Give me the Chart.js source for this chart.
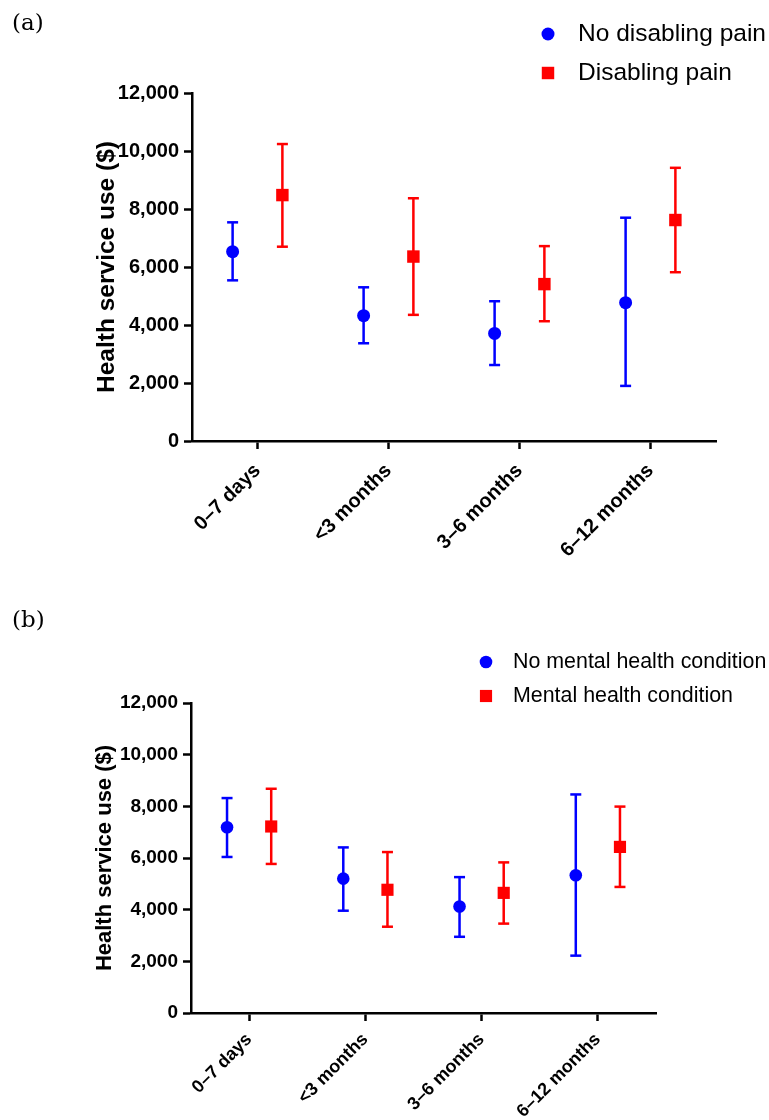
<!DOCTYPE html>
<html>
<head>
<meta charset="utf-8">
<script src="https://cdn.jsdelivr.net/npm/chart.js@4.4.0/dist/chart.umd.min.js"></script>
<style>
  body { margin: 0; background: #fff; width: 769px; height: 1120px; position: relative; overflow: hidden; }
  .panel { position: absolute; left: 0; width: 769px; height: 560px; }
  .tag { position: absolute; left: 12px; z-index: 2; font-family: "DejaVu Serif", serif; font-size: 23px; color: #000; }
</style>
</head>
<body>
<div class="panel" style="top: 0"><canvas id="chartA" width="769" height="560"></canvas></div>
<div class="panel" style="top: 560px"><canvas id="chartB" width="769" height="560"></canvas></div>
<div class="tag" style="top: 9px">(a)</div>
<div class="tag" style="top: 606px">(b)</div>
<script>
const categories = ['0–7 days', '<3 months', '3–6 months', '6–12 months'];
const yTickValues = [0, 2000, 4000, 6000, 8000, 10000, 12000];

// (a) disabling pain
const noPainMean = [6530, 4320, 3710, 4770];
const noPainLow = [5540, 3370, 2620, 1900];
const noPainHigh = [7540, 5300, 4820, 7700];
const painMean = [8480, 6360, 5410, 7620];
const painLow = [6700, 4350, 4130, 5820];
const painHigh = [10240, 8370, 6720, 9420];

// (b) mental health condition
const noMentalMean = [7190, 5200, 4120, 5330];
const noMentalLow = [6040, 3960, 2950, 2220];
const noMentalHigh = [8320, 6410, 5260, 8460];
const mentalMean = [7220, 4770, 4650, 6430];
const mentalLow = [5770, 3340, 3460, 4880];
const mentalHigh = [8680, 6230, 5830, 7990];

const BLUE = '#0000ff';
const RED = '#ff0000';
const SHIFT = 0.19;

Chart.defaults.font.family = '"Liberation Sans", Arial, sans-serif';
Chart.defaults.color = '#000';

// mean marker + caps + whisker for one group
function errorSeries(label, mean, low, high, shift, color, style, radius) {
  const xs = mean.map((_, i) => i + shift);
  const whisker = [];
  const caps = [];
  xs.forEach((x, i) => {
    whisker.push({ x, y: low[i] }, { x, y: high[i] }, { x, y: null });
    caps.push({ x, y: low[i] }, { x, y: high[i] });
  });
  return [
    {
      type: 'scatter', label, inLegend: true,
      data: xs.map((x, i) => ({ x, y: mean[i] })),
      pointStyle: style, pointRadius: radius, pointHoverRadius: radius,
      pointBackgroundColor: color, pointBorderWidth: 0, order: 0
    },
    {
      type: 'scatter', data: caps,
      pointStyle: 'line', pointRadius: 5.5, pointHoverRadius: 5.5,
      pointBorderColor: color, pointBorderWidth: 2.5, order: 1
    },
    {
      type: 'line', data: whisker, borderColor: color, borderWidth: 2.5,
      pointRadius: 0, spanGaps: false, fill: false, order: 2
    }
  ];
}

// legend stacked in a column, markers left-aligned
const markerLegend = {
  id: 'markerLegend',
  afterDraw(chart, args, opts) {
    const ctx = chart.ctx;
    ctx.save();
    ctx.font = opts.font;
    ctx.textBaseline = 'middle';
    chart.data.datasets.filter(d => d.inLegend).forEach((d, i) => {
      const y = opts.top + i * opts.rowGap;
      ctx.fillStyle = d.pointBackgroundColor;
      Chart.helpers.drawPoint(ctx, { pointStyle: d.pointStyle, radius: d.pointRadius, borderWidth: 0, rotation: 0 }, opts.markerX, y);
      ctx.fillStyle = '#000';
      ctx.fillText(d.label, opts.textX, y);
    });
    ctx.restore();
  }
};

function makeChart(id, datasets, p) {
  const axisGrid = { drawOnChartArea: false, drawTicks: true, tickLength: 8, tickWidth: 2.5, tickColor: '#000' };
  const axisBorder = { display: true, color: '#000', width: 2.5 };
  return new Chart(document.getElementById(id), {
    type: 'scatter',
    data: { datasets },
    plugins: [markerLegend],
    options: {
      responsive: false,
      animation: false,
      events: [],
      layout: { padding: { top: p.top, right: p.right, bottom: 0, left: 0 } },
      plugins: {
        legend: { display: false },
        tooltip: { enabled: false },
        markerLegend: p.legend
      },
      scales: {
        x: {
          type: 'linear', min: -0.5, max: 3.5,
          afterBuildTicks: s => { s.ticks = categories.map((c, i) => ({ value: i })); },
          afterFit: s => { s.height = p.xHeight; },
          grid: axisGrid,
          border: axisBorder,
          ticks: {
            callback: v => categories[v],
            minRotation: 45, maxRotation: 45, autoSkip: false,
            color: '#000', padding: p.xPad,
            font: { size: p.xFont, weight: 'bold' }
          }
        },
        y: {
          min: 0, max: 12000,
          afterBuildTicks: s => { s.ticks = yTickValues.map(v => ({ value: v })); },
          afterFit: s => { s.width = p.yWidth; },
          grid: axisGrid,
          border: axisBorder,
          ticks: {
            callback: v => v.toLocaleString('en-US'),
            color: '#000', padding: 5,
            font: { size: p.yFont, weight: 'bold' }
          },
          title: {
            display: true, text: 'Health service use ($)', color: '#000',
            font: { size: p.titleFont, weight: 'bold' },
            padding: { top: p.titlePad, bottom: 0 }
          }
        }
      }
    }
  });
}

makeChart('chartA', [
  ...errorSeries('No disabling pain', noPainMean, noPainLow, noPainHigh, -SHIFT, BLUE, 'circle', 6.5),
  ...errorSeries('Disabling pain', painMean, painLow, painHigh, SHIFT, RED, 'rect', 8.8)
], {
  top: 93, right: 53, xHeight: 119, yWidth: 192,
  xFont: 20, xPad: 10, yFont: 20, titleFont: 24.5, titlePad: 93,
  legend: { markerX: 548, textX: 578, top: 34, rowGap: 39, font: '24.5px "Liberation Sans", Arial, sans-serif' }
});

makeChart('chartB', [
  ...errorSeries('No mental health condition', noMentalMean, noMentalLow, noMentalHigh, -SHIFT, BLUE, 'circle', 6.3),
  ...errorSeries('Mental health condition', mentalMean, mentalLow, mentalHigh, SHIFT, RED, 'rect', 8.6)
], {
  top: 143, right: 113, xHeight: 107, yWidth: 191,
  xFont: 18, xPad: 8, yFont: 19, titleFont: 22, titlePad: 92,
  legend: { markerX: 486, textX: 513, top: 102, rowGap: 34, font: '21.4px "Liberation Sans", Arial, sans-serif' }
});
</script>
</body>
</html>
